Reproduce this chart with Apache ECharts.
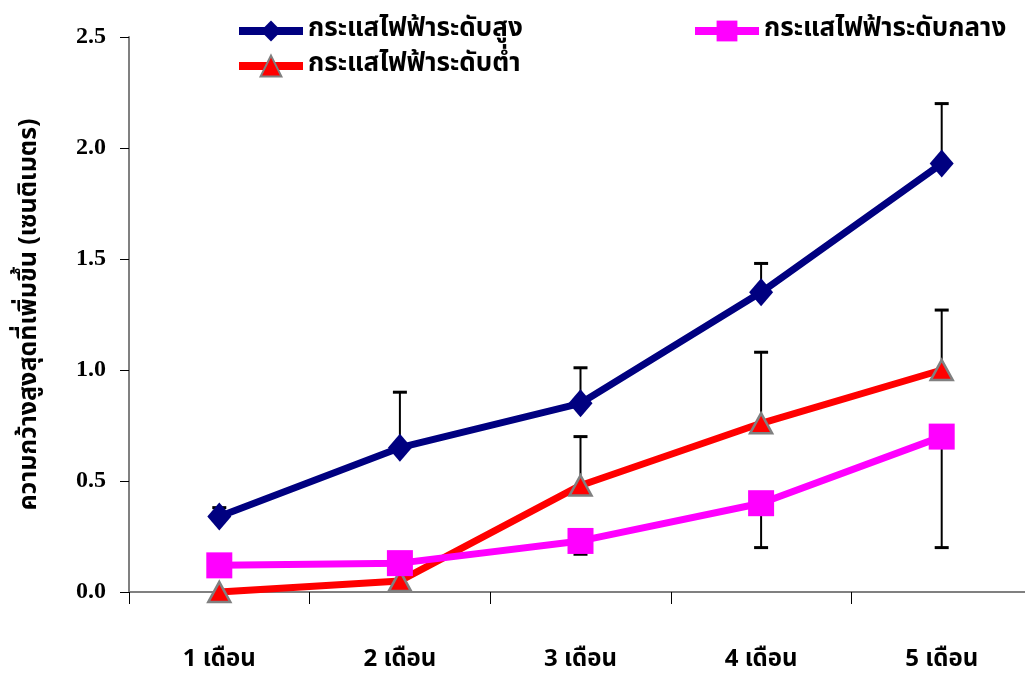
<!DOCTYPE html>
<html>
<head>
<meta charset="utf-8">
<script src="https://cdn.jsdelivr.net/npm/echarts@6/dist/echarts.min.js"></script>
<style>
  html, body { margin: 0; padding: 0; background: #ffffff; overflow: hidden; }
  /* the plot area runs a few pixels past the right edge of the window */
  #chart { width: 1032px; height: 673px; }
</style>
</head>
<body>
<div id="chart"></div>
<script>
// Months after treatment
const categories = ['1 เดือน', '2 เดือน', '3 เดือน', '4 เดือน', '5 เดือน'];

// Series names
const nameHigh = 'กระแสไฟฟ้าระดับสูง';
const nameMid = 'กระแสไฟฟ้าระดับกลาง';
const nameLow = 'กระแสไฟฟ้าระดับต่ำ';

// Mean maximum width increase (cm)
const highValues = [0.34, 0.65, 0.85, 1.35, 1.93];
const midValues = [0.12, 0.13, 0.23, 0.40, 0.70];
const lowValues = [0.00, 0.05, 0.48, 0.76, 1.00];

// Error bar end points (one-sided)
const highErrEnd = [0.38, 0.90, 1.01, 1.48, 2.20];
const midErrEnd = [0.10, 0.11, 0.17, 0.20, 0.20];
const lowErrEnd = [null, null, 0.70, 1.08, 1.27];

// Y axis tick labels
const yTicks = ['0.0', '0.5', '1.0', '1.5', '2.0', '2.5'];

const thaiFont = "'Noto Sans Thai', 'Noto Serif Thai', 'Liberation Serif', serif";

function errData(means, ends) {
  const out = [];
  means.forEach((m, i) => {
    if (ends[i] !== null) out.push([i, m, ends[i]]);
  });
  return out;
}

function renderErr(params, api) {
  const x = api.value(0);
  const p0 = api.coord([x, api.value(1)]);
  const p1 = api.coord([x, api.value(2)]);
  const half = 7;
  return {
    type: 'group',
    children: [
      { type: 'line', shape: { x1: p0[0], y1: p0[1], x2: p1[0], y2: p1[1] },
        style: { stroke: '#000000', lineWidth: 2 } },
      { type: 'line', shape: { x1: p1[0] - half, y1: p1[1], x2: p1[0] + half, y2: p1[1] },
        style: { stroke: '#000000', lineWidth: 3 } }
    ]
  };
}

const chart = echarts.init(document.getElementById('chart'), null, { renderer: 'canvas' });

const legendText = { fontFamily: thaiFont, fontSize: 26, fontWeight: 'bold', color: '#000000' };
const legendBase = { itemWidth: 64, itemHeight: 26, itemGap: 8, textStyle: legendText, lineStyle: { width: 8 } };

chart.setOption({
  animation: false,
  backgroundColor: '#ffffff',
  grid: { left: 129, top: 37, right: 0, bottom: 80, containLabel: false },
  legend: [
    Object.assign({ data: [nameHigh], left: 230, top: 13 }, legendBase),
    Object.assign({ data: [nameMid], left: 686, top: 13 }, legendBase),
    Object.assign({ data: [nameLow], left: 230, top: 48 }, legendBase)
  ],
  xAxis: {
    type: 'category',
    data: categories,
    boundaryGap: true,
    axisLine: { lineStyle: { color: '#808080', width: 2 } },
    axisTick: { show: true, length: 12, inside: false, lineStyle: { color: '#000000', width: 1 } },
    axisLabel: { margin: 57, fontFamily: thaiFont, fontSize: 24, fontWeight: 'bold', color: '#000000' },
    splitLine: { show: false }
  },
  yAxis: {
    type: 'value',
    min: 0,
    max: 2.5,
    interval: 0.5,
    name: 'ความกว้างสูงสุดที่เพิ่มขึ้น (เซนติเมตร)',
    nameLocation: 'middle',
    nameGap: 86,
    nameRotate: 90,
    nameTextStyle: { fontFamily: thaiFont, fontSize: 25, fontWeight: 'bold', color: '#000000' },
    axisLine: { show: true, lineStyle: { color: '#808080', width: 2 } },
    axisTick: { show: true, length: 9, lineStyle: { color: '#000000', width: 1 } },
    axisLabel: {
      margin: 23,
      fontFamily: "'Liberation Serif', serif",
      fontSize: 24,
      fontWeight: 'bold',
      color: '#000000',
      formatter: (v) => yTicks[Math.round(v / 0.5)]
    },
    splitLine: { show: false }
  },
  series: [
    { type: 'custom', name: 'errHigh', renderItem: renderErr, data: errData(highValues, highErrEnd), z: 1, silent: true },
    { type: 'custom', name: 'errMid', renderItem: renderErr, data: errData(midValues, midErrEnd), z: 1, silent: true },
    { type: 'custom', name: 'errLow', renderItem: renderErr, data: errData(lowValues, lowErrEnd), z: 1, silent: true },
    {
      name: nameLow, type: 'line', data: lowValues, z: 3,
      symbol: 'triangle', symbolSize: [22, 20],
      lineStyle: { color: '#ff0000', width: 7 },
      itemStyle: { color: '#ff0000', borderColor: '#808080', borderWidth: 2.5 }
    },
    {
      name: nameMid, type: 'line', data: midValues, z: 4,
      symbol: 'rect', symbolSize: 26,
      lineStyle: { color: '#ff00ff', width: 7 },
      itemStyle: { color: '#ff00ff', borderWidth: 0 }
    },
    {
      name: nameHigh, type: 'line', data: highValues, z: 5,
      symbol: 'diamond', symbolSize: [24, 28],
      lineStyle: { color: '#000080', width: 7 },
      itemStyle: { color: '#000080', borderWidth: 0 }
    }
  ]
});
</script>
</body>
</html>
